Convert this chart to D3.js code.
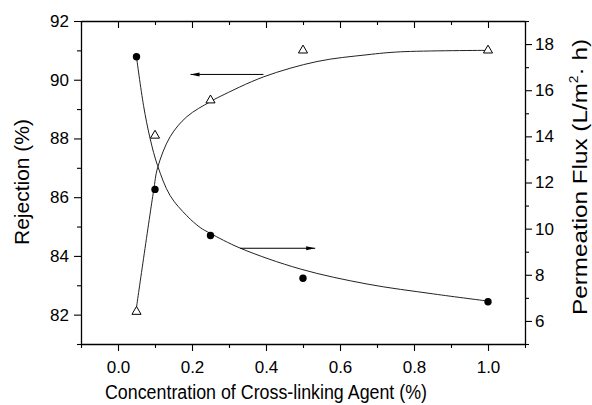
<!DOCTYPE html>
<html>
<head>
<meta charset="utf-8">
<script src="https://cdn.jsdelivr.net/npm/d3@7"></script>
<style>
  html, body { margin: 0; padding: 0; background: #fff; }
  svg { display: block; font-family: "Liberation Sans", Arial, Helvetica, sans-serif; }
</style>
</head>
<body>
<svg id="chart" width="592" height="405"></svg>
<script>
// Measured points: cross-linking agent concentration (%)
const concentration = [0.05, 0.1, 0.25, 0.5, 1.0];
// Salt rejection (%), left axis, open triangles
const rejection = [82.1, 88.1, 89.3, 91.0, 91.0];
// Permeation flux (L/m2 h), right axis, filled circles
const flux = [17.45, 11.7, 9.7, 7.85, 6.83];

// Fitted trend curves
const rejectionFitX = [0.05, 0.096, 0.107, 0.141, 0.186, 0.249, 0.276, 0.394, 0.538, 0.673, 0.763, 1.0];
const rejectionFitY = [82.25, 86.2, 87.0, 88.06, 88.74, 89.25, 89.43, 90.10, 90.62, 90.85, 90.95, 91.0];
const fluxFitX = [0.05, 0.069, 0.087, 0.107, 0.141, 0.186, 0.222, 0.249, 0.331, 0.493, 0.673, 0.853, 1.0];
const fluxFitY = [17.44, 15.34, 13.89, 12.73, 11.43, 10.56, 10.05, 9.80, 9.15, 8.25, 7.60, 7.17, 6.86];

// Arrows pointing each curve to its axis
const rejectionArrowX = [0.393, 0.196];
const rejectionArrowY = [90.18, 90.18];
const fluxArrowX = [0.33, 0.533];
const fluxArrowY = [9.15, 9.15];

// Axis ticks
const xMajor = [0, 0.2, 0.4, 0.6, 0.8, 1.0];
const xMinor = [-0.1, 0.1, 0.3, 0.5, 0.7, 0.9, 1.1];
const leftMajor = [82, 84, 86, 88, 90, 92];
const leftMinor = [81, 83, 85, 87, 89, 91];
const rightMajor = [6, 8, 10, 12, 14, 16, 18];
const rightMinor = [5, 7, 9, 11, 13, 15, 17, 19];

const svg = d3.select("#chart");
const plot = { left: 81, right: 525, top: 21, bottom: 344 };

const x = d3.scaleLinear().domain([-0.1, 1.1]).range([plot.left, plot.right]);
const yL = d3.scaleLinear().domain([81, 92]).range([plot.bottom, plot.top]);
const yR = d3.scaleLinear().domain([5, 19]).range([plot.bottom, plot.top]);

const defs = svg.append("defs");
defs.append("marker")
  .attr("id", "arrowhead")
  .attr("markerUnits", "userSpaceOnUse")
  .attr("markerWidth", 10).attr("markerHeight", 6)
  .attr("refX", 9).attr("refY", 3)
  .attr("orient", "auto")
  .append("path").attr("d", "M0,1 L9,3 L0,5 Z").attr("fill", "#000");

const tickFont = 17;
const majorLen = 7, minorLen = 4;

function styleAxis(g) {
  g.selectAll(".domain").attr("stroke", "#000").attr("stroke-width", 1.3);
  g.selectAll(".tick line").attr("stroke", "#000").attr("stroke-width", 1.1);
  g.selectAll(".tick text").attr("fill", "#000").attr("font-size", tickFont)
    .attr("font-family", "\"Liberation Sans\", Arial, sans-serif");
}

// Bottom axis
const gB = svg.append("g").attr("transform", `translate(0,${plot.bottom})`)
  .call(d3.axisBottom(x).tickValues(xMajor).tickFormat(d3.format(".1f"))
    .tickSize(majorLen).tickSizeOuter(0).tickPadding(10));
styleAxis(gB);
const gBm = svg.append("g").attr("transform", `translate(0,${plot.bottom})`)
  .call(d3.axisBottom(x).tickValues(xMinor).tickFormat("").tickSize(minorLen).tickSizeOuter(0));
styleAxis(gBm); gBm.select(".domain").remove();

// Top axis (ticks pointing inward, no labels)
const gT = svg.append("g").attr("transform", `translate(0,${plot.top})`)
  .call(d3.axisTop(x).tickValues(xMajor).tickFormat("").tickSize(-majorLen).tickSizeOuter(0));
styleAxis(gT);
const gTm = svg.append("g").attr("transform", `translate(0,${plot.top})`)
  .call(d3.axisTop(x).tickValues(xMinor).tickFormat("").tickSize(-minorLen).tickSizeOuter(0));
styleAxis(gTm); gTm.select(".domain").remove();

// Left axis: rejection
const gL = svg.append("g").attr("transform", `translate(${plot.left},0)`)
  .call(d3.axisLeft(yL).tickValues(leftMajor).tickFormat(d3.format("d"))
    .tickSize(majorLen).tickSizeOuter(0).tickPadding(5));
styleAxis(gL);
const gLm = svg.append("g").attr("transform", `translate(${plot.left},0)`)
  .call(d3.axisLeft(yL).tickValues(leftMinor).tickFormat("").tickSize(minorLen).tickSizeOuter(0));
styleAxis(gLm); gLm.select(".domain").remove();

// Right axis: flux
const gR = svg.append("g").attr("transform", `translate(${plot.right},0)`)
  .call(d3.axisRight(yR).tickValues(rightMajor).tickFormat(d3.format("d"))
    .tickSize(majorLen).tickSizeOuter(0).tickPadding(3));
styleAxis(gR);
const gRm = svg.append("g").attr("transform", `translate(${plot.right},0)`)
  .call(d3.axisRight(yR).tickValues(rightMinor).tickFormat("").tickSize(minorLen).tickSizeOuter(0));
styleAxis(gRm); gRm.select(".domain").remove();

// Fitted curves
const rejLine = d3.line().x(d => x(d[0])).y(d => yL(d[1])).curve(d3.curveCatmullRom.alpha(0.5));
const fluxLine = d3.line().x(d => x(d[0])).y(d => yR(d[1])).curve(d3.curveCatmullRom.alpha(0.5));

svg.append("path")
  .datum(d3.zip(rejectionFitX, rejectionFitY))
  .attr("d", rejLine)
  .attr("fill", "none").attr("stroke", "#222").attr("stroke-width", 1);

svg.append("path")
  .datum(d3.zip(fluxFitX, fluxFitY))
  .attr("d", fluxLine)
  .attr("fill", "none").attr("stroke", "#222").attr("stroke-width", 1);

// Arrows
svg.append("line")
  .attr("x1", x(rejectionArrowX[0])).attr("y1", yL(rejectionArrowY[0]))
  .attr("x2", x(rejectionArrowX[1])).attr("y2", yL(rejectionArrowY[1]))
  .attr("stroke", "#000").attr("stroke-width", 1).attr("marker-end", "url(#arrowhead)");
svg.append("line")
  .attr("x1", x(fluxArrowX[0])).attr("y1", yR(fluxArrowY[0]))
  .attr("x2", x(fluxArrowX[1])).attr("y2", yR(fluxArrowY[1]))
  .attr("stroke", "#000").attr("stroke-width", 1).attr("marker-end", "url(#arrowhead)");

// Rejection markers: open triangles
const tri = d3.symbol().type(d3.symbolTriangle).size(36);
svg.append("g").selectAll("path")
  .data(d3.zip(concentration, rejection))
  .join("path")
  .attr("d", tri)
  .attr("transform", d => `translate(${x(d[0])},${yL(d[1])})`)
  .attr("fill", "#fff").attr("stroke", "#000").attr("stroke-width", 1);

// Flux markers: filled circles
svg.append("g").selectAll("circle")
  .data(d3.zip(concentration, flux))
  .join("circle")
  .attr("cx", d => x(d[0])).attr("cy", d => yR(d[1]))
  .attr("r", 3.7).attr("fill", "#000");

// Axis titles
svg.append("text")
  .attr("x", 266).attr("y", 399)
  .attr("text-anchor", "middle").attr("font-size", 20)
  .attr("textLength", 322).attr("lengthAdjust", "spacingAndGlyphs")
  .text("Concentration of Cross-linking Agent (%)");

svg.append("text")
  .attr("transform", "translate(28.5,182) rotate(-90)")
  .attr("text-anchor", "middle").attr("font-size", 21)
  .text("Rejection (%)");

const rt = svg.append("text")
  .attr("transform", "translate(587,177) rotate(-90)")
  .attr("text-anchor", "middle").attr("font-size", 21)
  .attr("textLength", 276).attr("lengthAdjust", "spacingAndGlyphs");
rt.append("tspan").text("Permeation Flux (L/m");
rt.append("tspan").attr("font-size", 12).attr("dy", -9).text("2");
rt.append("tspan").attr("dy", 9).text("·  h)");
</script>
</body>
</html>
